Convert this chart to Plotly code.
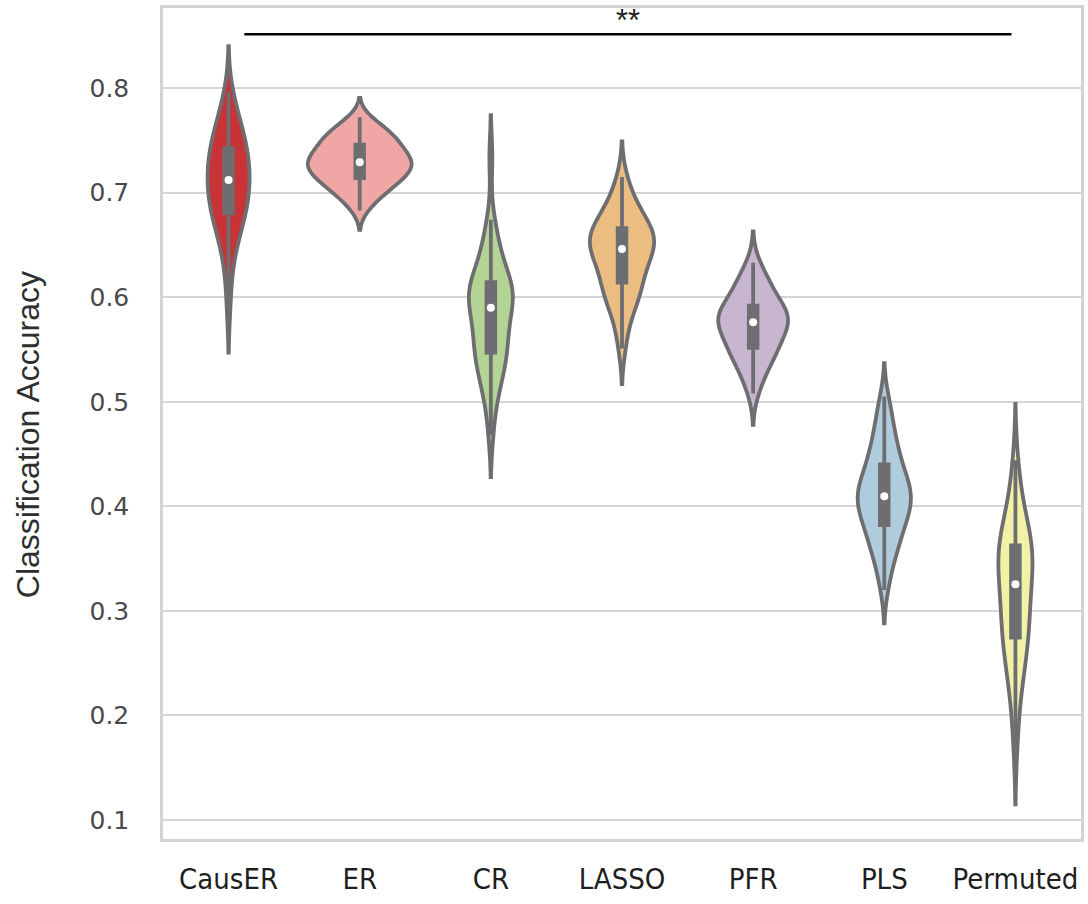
import numpy as np
import plotly.graph_objects as go

# ---- data: classification accuracy per method (one value per replicate) ----
methods = ["CausER", "ER", "CR", "LASSO", "PFR", "PLS", "Permuted"]

causer_acc = [0.591, 0.620, 0.638, 0.648, 0.656, 0.663, 0.668, 0.672, 0.676, 0.679,
              0.682, 0.686, 0.689, 0.692, 0.696, 0.699, 0.702, 0.705, 0.708, 0.711,
              0.713, 0.716, 0.719, 0.722, 0.725, 0.729, 0.732, 0.735, 0.738, 0.741,
              0.744, 0.747, 0.751, 0.755, 0.759, 0.764, 0.769, 0.775, 0.784, 0.796]

er_acc = [0.683, 0.691, 0.695, 0.699, 0.702, 0.704, 0.707, 0.709, 0.711, 0.713,
          0.715, 0.716, 0.718, 0.720, 0.721, 0.723, 0.724, 0.726, 0.727, 0.728,
          0.730, 0.731, 0.733, 0.734, 0.736, 0.737, 0.739, 0.741, 0.743, 0.745,
          0.747, 0.749, 0.751, 0.753, 0.755, 0.757, 0.760, 0.763, 0.767, 0.772]

cr_acc = [0.468, 0.492, 0.505, 0.514, 0.521, 0.527, 0.532, 0.537, 0.541, 0.545,
          0.549, 0.553, 0.557, 0.561, 0.565, 0.569, 0.573, 0.578, 0.583, 0.588,
          0.592, 0.594, 0.597, 0.599, 0.601, 0.603, 0.605, 0.608, 0.610, 0.613,
          0.616, 0.620, 0.625, 0.630, 0.636, 0.643, 0.651, 0.661, 0.674, 0.734]

lasso_acc = [0.551, 0.567, 0.580, 0.588, 0.594, 0.598, 0.602, 0.606, 0.609, 0.612,
             0.616, 0.620, 0.624, 0.628, 0.632, 0.635, 0.638, 0.641, 0.643, 0.645,
             0.647, 0.649, 0.651, 0.653, 0.655, 0.657, 0.659, 0.661, 0.663, 0.665,
             0.667, 0.670, 0.673, 0.676, 0.680, 0.684, 0.689, 0.695, 0.704, 0.715]

pfr_acc = [0.508, 0.518, 0.525, 0.531, 0.536, 0.540, 0.543, 0.546, 0.548, 0.550,
           0.553, 0.556, 0.559, 0.562, 0.565, 0.567, 0.569, 0.571, 0.573, 0.575,
           0.577, 0.578, 0.580, 0.581, 0.583, 0.584, 0.586, 0.587, 0.589, 0.591,
           0.593, 0.596, 0.600, 0.605, 0.609, 0.612, 0.615, 0.618, 0.624, 0.633]

pls_acc = [0.320, 0.335, 0.345, 0.352, 0.358, 0.363, 0.368, 0.372, 0.376, 0.380,
           0.384, 0.387, 0.390, 0.393, 0.396, 0.399, 0.402, 0.404, 0.406, 0.408,
           0.411, 0.413, 0.416, 0.418, 0.421, 0.424, 0.427, 0.430, 0.434, 0.438,
           0.442, 0.446, 0.451, 0.456, 0.462, 0.468, 0.475, 0.483, 0.493, 0.505]

permuted_acc = [0.169, 0.200, 0.218, 0.230, 0.240, 0.248, 0.255, 0.261, 0.267, 0.272,
                0.277, 0.282, 0.287, 0.292, 0.297, 0.302, 0.307, 0.312, 0.317, 0.322,
                0.329, 0.333, 0.337, 0.341, 0.345, 0.349, 0.352, 0.355, 0.358, 0.361,
                0.364, 0.368, 0.372, 0.377, 0.383, 0.390, 0.398, 0.408, 0.422, 0.444]

y_ticks = [0.1, 0.2, 0.3, 0.4, 0.5, 0.6, 0.7, 0.8]
y_tick_labels = ["0.1", "0.2", "0.3", "0.4", "0.5", "0.6", "0.7", "0.8"]
y_title = "Classification Accuracy"

# significance comparison drawn above the violins
sig_from, sig_to, sig_label = "CausER", "Permuted", "**"

# ---- styling ----
fill_colors = ["#ca3335", "#efa6a5", "#b3d495", "#ebbd81", "#c8b6d1", "#aeccdb", "#f2f2a6"]
kde_bandwidth = [0.022, 0.0093, 0.020, 0.017, 0.015, 0.016, 0.027]
violin_width = [0.32, 0.79, 0.335, 0.49, 0.53, 0.405, 0.26]
GRAY = "#6e6e72"
GRID = "#d6d6d6"
SPINE = "#d3d3d3"
LW = 3.8

groups = [causer_acc, er_acc, cr_acc, lasso_acc, pfr_acc, pls_acc, permuted_acc]

fig = go.Figure()

for name, vals, col, bw, w in zip(methods, groups, fill_colors, kde_bandwidth, violin_width):
    fig.add_trace(go.Violin(
        x=[name] * len(vals), y=vals, name=name,
        fillcolor=col, line=dict(color=GRAY, width=LW),
        bandwidth=bw, width=w, scalemode="width", spanmode="soft",
        points=False, box_visible=False, meanline_visible=False,
        hoverinfo="skip",
    ))
    # inner box: thick bar for the IQR, thin whisker to 1.5*IQR
    fig.add_trace(go.Box(
        x=[name] * len(vals), y=vals, name=name,
        fillcolor=GRAY, line=dict(color=GRAY, width=LW),
        width=0.066, whiskerwidth=0, boxpoints="outliers",
        marker=dict(opacity=0, size=1), hoverinfo="skip",
    ))
    # median marker
    fig.add_trace(go.Scatter(
        x=[name], y=[float(np.median(vals))], mode="markers",
        marker=dict(color="white", size=8, line=dict(width=0)),
        hoverinfo="skip",
    ))

# significance bar
i0, i1 = methods.index(sig_from), methods.index(sig_to)
bar_y = 0.8515
fig.add_shape(type="line", xref="x", yref="y",
              x0=i0 + 0.12, x1=i1 - 0.03, y0=bar_y, y1=bar_y,
              line=dict(color="black", width=2.5))
fig.add_annotation(x=(i0 + 0.12 + i1 - 0.03) / 2, y=bar_y, xref="x", yref="y",
                   text=sig_label, showarrow=False, yanchor="bottom", yshift=-6,
                   font=dict(family="Liberation Sans, Arial, sans-serif", size=31, color="#222222"))

# y-axis title
fig.add_annotation(x=-0.147, y=0.486, xref="paper", yref="paper",
                   text=y_title, textangle=-90, showarrow=False,
                   xanchor="center", yanchor="middle",
                   font=dict(family="Liberation Sans, Arial, sans-serif", size=32, color="#2e2e2e"))

fig.update_layout(
    width=1088, height=904,
    margin=dict(l=163, r=7, t=8, b=65),
    paper_bgcolor="white", plot_bgcolor="white",
    showlegend=False,
    violinmode="overlay", boxmode="overlay",
)

fig.update_xaxes(
    categoryorder="array", categoryarray=methods,
    range=[-0.5, len(methods) - 0.5],
    automargin=False,
    showgrid=False, zeroline=False,
    showline=True, mirror=True, linecolor=SPINE, linewidth=2.5,
    ticks="", ticklabelstandoff=12,
    tickfont=dict(family="Liberation Sans Narrow, DejaVu Sans Condensed, Liberation Sans, sans-serif",
                  size=29, color="#1e1e1e"),
)

fig.update_yaxes(
    range=[0.0818, 0.8766],
    automargin=False,
    tickvals=y_ticks, ticktext=y_tick_labels,
    showgrid=True, gridcolor=GRID, gridwidth=2, zeroline=False,
    showline=True, mirror=True, linecolor=SPINE, linewidth=2.5,
    ticks="", ticklabelstandoff=26,
    tickfont=dict(family="DejaVu Sans, sans-serif", size=25, color="#4a4a4a"),
)

fig.write_html("out.html")
